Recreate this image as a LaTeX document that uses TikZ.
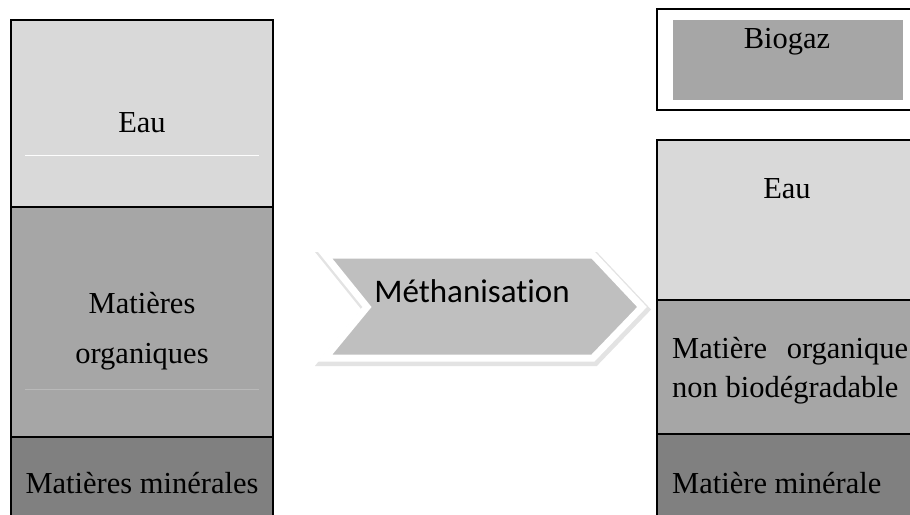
\documentclass[tikz,border=0pt]{standalone}
\usepackage{fontspec}
\setmainfont{Liberation Serif}
\newfontfamily\calibri[Ligatures=NoCommon]{Carlito}
\usepackage{tikz}

\definecolor{eaugray}{HTML}{D9D9D9}
\definecolor{orggray}{HTML}{A6A6A6}
\definecolor{mingray}{HTML}{808080}
\definecolor{chevgray}{HTML}{BFBFBF}

\begin{document}
\begin{tikzpicture}[x=1pt,y=-1pt,
  layer/.style={draw=black,line width=1.8pt},
  lbl/.style={font=\fontsize{30.5}{36}\selectfont,anchor=base,inner sep=0pt}]

\useasboundingbox (0,0) rectangle (910,514);

% Left column (before)
\fill[eaugray] (11,20) rectangle (273,207);
\fill[orggray] (11,207) rectangle (273,437);
\fill[mingray] (11,437) rectangle (273,520);
\draw[white!95!eaugray, line width=0.8pt] (25,155) -- (259,155);
\draw[gray!55, line width=0.8pt] (25,389) -- (259,389);
\draw[layer] (11,520) -- (11,20) -- (273,20) -- (273,520);
\draw[layer] (11,207) -- (273,207);
\draw[layer] (11,437) -- (273,437);

\node[lbl] (eauL) at (142,132) {Eau};
\node[lbl] (orgL) at (142,313) {Matières};
\node[lbl] (orgL2) at (142,363) {organiques};
\node[lbl] (minL) at (142,493) {Matières minérales};

% Chevron
\draw[gray!22, line width=11pt, line join=miter]
  (326.5,257.5) -- (594.5,257.5) -- (643.5,309.5) -- (594.5,360.5) -- (326.5,360.5) -- (368.5,309.5) -- cycle;
\draw[white, line width=7pt, fill=chevgray, line join=miter]
  (325,255) -- (593,255) -- (642,307) -- (593,358) -- (325,358) -- (367,307) -- cycle;
\node[font=\calibri\fontsize{33}{38}\selectfont, anchor=base] (meth) at (472,302) {Méthanisation};

% Right column (after)
\draw[line width=1.5pt] (657,9) rectangle (915,110);
\fill[orggray] (673,20) rectangle (903,100);
\node[lbl] (biogaz) at (787,48) {Biogaz};

\fill[eaugray] (657,140) rectangle (915,300);
\fill[orggray] (657,300) rectangle (915,434);
\fill[mingray] (657,434) rectangle (915,520);
\draw[layer] (657,520) -- (657,140) -- (915,140);
\draw[layer] (657,300) -- (915,300);
\draw[layer] (657,434) -- (915,434);

\node[lbl] (eauR) at (787,198) {Eau};
\node[lbl,anchor=base west] (orgR) at (672,358) {\hbox to 236pt{Matière\hfill organique}};
\node[lbl,anchor=base west] (orgR2) at (672,397) {non biodégradable};
\node[lbl,anchor=base west] (minR) at (672,493) {Matière minérale};

\end{tikzpicture}
\end{document}
